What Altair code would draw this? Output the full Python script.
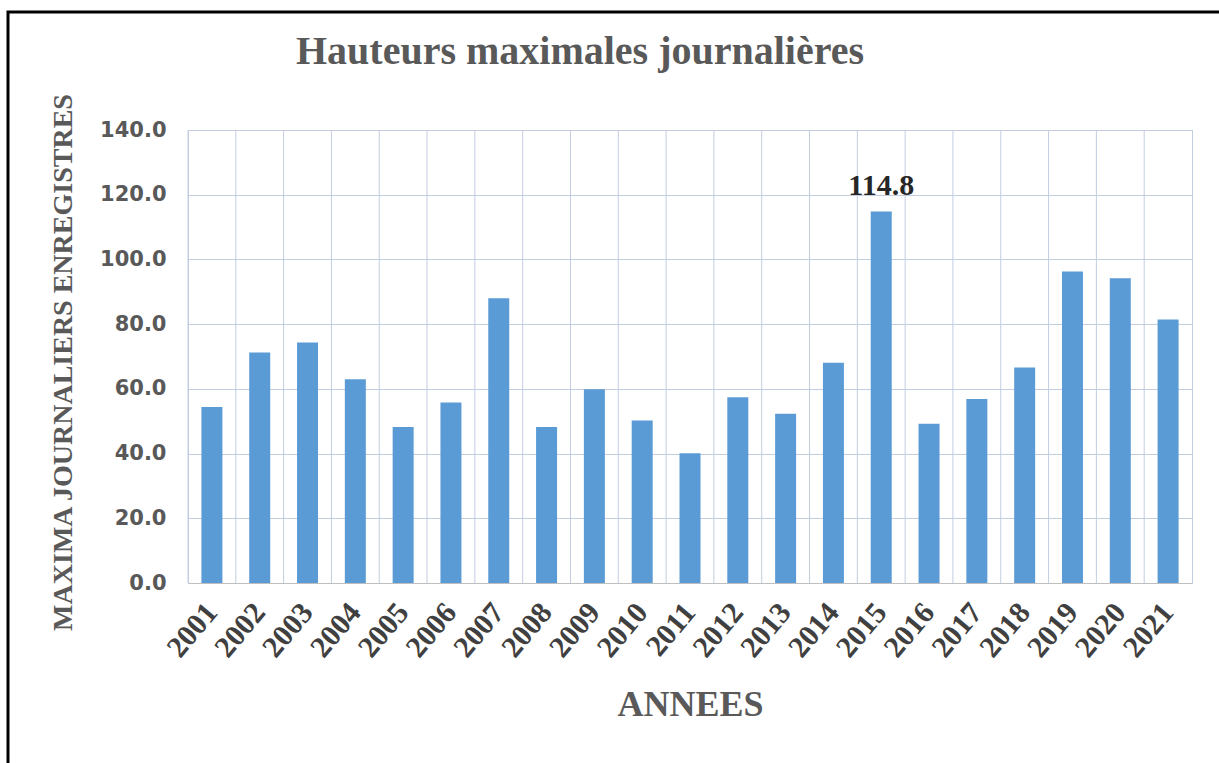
import altair as alt
import pandas as pd

# Annual maximum daily rainfall heights
years = [str(y) for y in range(2001, 2022)]
maxima = [54.4, 71.2, 74.3, 63.0, 48.2, 55.8, 88.0, 48.2, 59.9, 50.2, 40.1,
          57.4, 52.3, 68.1, 114.8, 49.2, 56.9, 66.6, 96.3, 94.2, 81.4]
highlight_year = "2015"

df = pd.DataFrame({"annee": years, "hauteur": maxima})
df_label = df[df["annee"] == highlight_year]

W, H = 1004, 453
GRID = "#c3cde0"

x_enc = alt.X(
    "annee:N",
    sort=years,
    scale=alt.Scale(paddingInner=0, paddingOuter=0),
    axis=alt.Axis(
        title="ANNEES",
        titleFont="Liberation Serif",
        titleFontSize=36,
        titleFontWeight="bold",
        titleColor="#595959",
        titleBaseline="alphabetic",
        titleY=132,
        labelFont="Liberation Serif",
        labelFontSize=30,
        labelFontWeight="bold",
        labelColor="#404040",
        labelAngle=-50,
        labelAlign="right",
        labelBaseline="middle",
        labelPadding=24,
        ticks=False,
        grid=False,
        domainColor="#bfbfbf",
    ),
)

y_enc = alt.Y(
    "hauteur:Q",
    scale=alt.Scale(domain=[0, 140]),
    axis=alt.Axis(
        title="MAXIMA JOURNALIERS ENREGISTRES",
        titleFont="Liberation Serif",
        titleFontSize=28,
        titleFontWeight="bold",
        titleColor="#595959",
        titleAngle=-90,
        titleAlign="center",
        titleBaseline="middle",
        titleX=-125,
        titleY=232,
        values=[0, 20, 40, 60, 80, 100, 120, 140],
        format=".1f",
        labelFont="DejaVu Sans",
        labelFontSize=21,
        labelFontWeight="bold",
        labelColor="#595959",
        labelPadding=22,
        ticks=False,
        domain=False,
        gridColor=GRID,
        gridWidth=1,
    ),
)

# vertical separators between year categories
vgrid = alt.Chart(pd.DataFrame({"annee": years})).mark_rule(
    color=GRID, strokeWidth=1
).encode(
    x=alt.X("annee:N", sort=years, bandPosition=0),
    y=alt.value(0),
    y2=alt.value(H),
)

bars = alt.Chart(df).mark_bar(size=21, color="#5b9bd5").encode(x=x_enc, y=y_enc)

label = alt.Chart(df_label).mark_text(
    font="Liberation Serif",
    fontSize=30,
    fontWeight="bold",
    color="#262626",
    baseline="alphabetic",
    dy=-17,
).encode(
    x=alt.X("annee:N", sort=years),
    y="hauteur:Q",
    text=alt.Text("hauteur:Q", format=".1f"),
)

# black outer frame around the figure
frame = alt.Chart(pd.DataFrame({"f": [0]})).mark_rect(
    filled=False, stroke="black", strokeWidth=3, clip=False
).encode(
    x=alt.value(-180),
    x2=alt.value(W + 60),
    y=alt.value(-118),
    y2=alt.value(H + 220),
)

chart = alt.layer(vgrid, bars, label, frame).properties(
    width=W,
    height=H,
    title=alt.TitleParams(
        "Hauteurs maximales journalières",
        font="Liberation Serif",
        fontSize=40,
        fontWeight="bold",
        color="#595959",
        anchor="middle",
        dx=-110,
        dy=45,
        baseline="alphabetic",
        offset=-48,
    ),
    autosize=alt.AutoSizeParams(type="none"),
    padding={"left": 188, "top": 130, "right": 27, "bottom": 180},
    background="white",
).configure_view(stroke=GRID, strokeWidth=1)

chart.save("out.html", embed_options={"renderer": "svg", "actions": False})
